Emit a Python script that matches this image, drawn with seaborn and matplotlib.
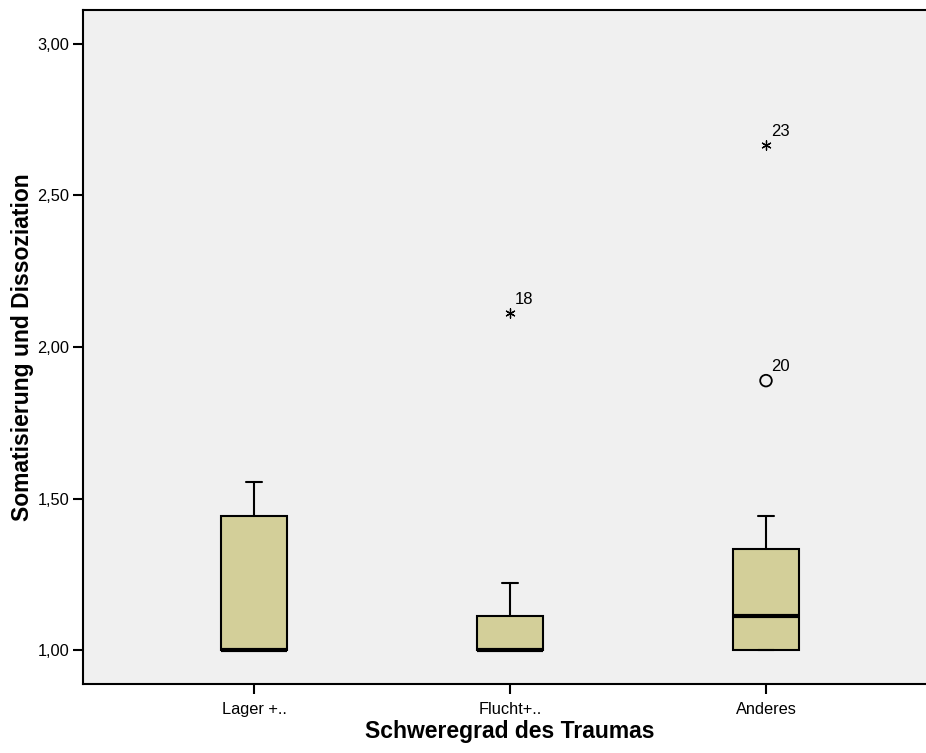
import matplotlib
matplotlib.use("Agg")
import matplotlib.pyplot as plt
import seaborn as sns
import pandas as pd

# Gruppen und Kennwerte der Boxplots (Tukey-Hinges)
categories = ["Lager +..", "Flucht+..", "Anderes"]
whisker_low = [1.000, 1.000, 1.000]
q1 = [1.000, 1.000, 1.000]
median = [1.000, 1.000, 1.111]
q3 = [1.444, 1.111, 1.333]
whisker_high = [1.556, 1.222, 1.444]

# Ausreißer (Kreis) und Extremwerte (Stern) mit Fallnummer
outlier_group = ["Flucht+..", "Anderes", "Anderes"]
outlier_value = [2.111, 1.889, 2.667]
outlier_case = ["18", "20", "23"]
outlier_kind = ["extreme", "outlier", "extreme"]

y_ticks = [1.0, 1.5, 2.0, 2.5, 3.0]
y_ticklabels = ["1,00", "1,50", "2,00", "2,50", "3,00"]

sns.set_style("white")
plt.rcParams["font.family"] = ["Liberation Sans", "DejaVu Sans"]
plt.rcParams.update({"text.color": "black", "axes.labelcolor": "black",
                     "xtick.color": "black", "ytick.color": "black"})

fig = plt.figure(figsize=(9.26, 7.53), dpi=100)
ax = fig.add_axes([83 / 926, 1 - 684 / 753, (937 - 83) / 926, (684 - 10) / 753])
ax.set_facecolor("#f0f0f0")

stats = []
for i, name in enumerate(categories):
    stats.append(dict(label=name, whislo=whisker_low[i], q1=q1[i], med=median[i],
                      q3=q3[i], whishi=whisker_high[i], fliers=[]))

pos = list(range(len(categories)))
ax.bxp(stats, positions=pos, widths=0.254, patch_artist=True, showfliers=False,
       boxprops=dict(facecolor="#d3cf99", edgecolor="black", linewidth=1.5),
       medianprops=dict(color="black", linewidth=3, solid_capstyle="butt"),
       whiskerprops=dict(color="black", linewidth=1.5),
       capprops=dict(color="black", linewidth=1.5),
       capwidths=0.066)

df = pd.DataFrame({"group": outlier_group, "value": outlier_value,
                   "case": outlier_case, "kind": outlier_kind})
df["x"] = df["group"].map({c: i for i, c in enumerate(categories)})

circ = df[df["kind"] == "outlier"]
star = df[df["kind"] == "extreme"]
sns.scatterplot(data=circ, x="x", y="value", ax=ax, marker="o", s=70,
                facecolor="none", edgecolor="black", linewidth=1.3, legend=False)
sns.scatterplot(data=star, x="x", y="value", ax=ax, marker=(6, 2, 0), s=45,
                color="black", linewidth=0.9, legend=False)
for _, r in df.iterrows():
    ax.annotate(r["case"], (r["x"], r["value"]), xytext=(3.5, 4.5),
                textcoords="offset points", fontsize=12, ha="left", va="bottom")

ax.set_xlim(-0.668, 2.668)
ax.set_ylim(0.888, 3.112)
ax.set_xticks(pos)
ax.set_xticklabels(categories, fontsize=11.8)
ax.set_yticks(y_ticks)
ax.set_yticklabels(y_ticklabels, fontsize=11.8)
ax.tick_params(axis="both", direction="out", length=7, width=1.5,
               left=True, bottom=True, pad=3)
ax.tick_params(axis="x", pad=6)

for side in ["top", "left", "bottom", "right"]:
    ax.spines[side].set_color("black")
    ax.spines[side].set_linewidth(1.5)

ax.set_xlabel("Schweregrad des Traumas", fontsize=16.5, fontweight="bold", labelpad=2)
ax.set_ylabel("Somatisierung und Dissoziation", fontsize=16.5, fontweight="bold", labelpad=2)

fig.savefig("out.png", dpi=100)
